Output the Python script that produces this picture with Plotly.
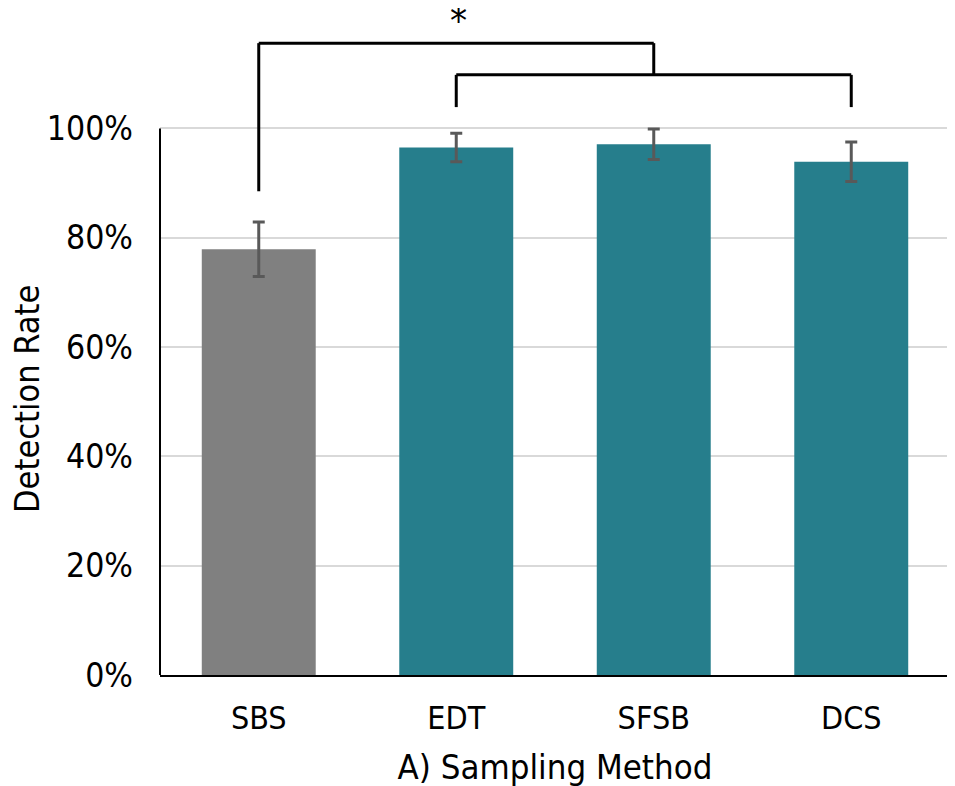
import plotly.graph_objects as go

categories = ["SBS", "EDT", "SFSB", "DCS"]
detection_rate = [0.779, 0.965, 0.971, 0.939]
error = [0.050, 0.026, 0.028, 0.036]
bar_colors = ["#808080", "#267E8C", "#267E8C", "#267E8C"]
y_ticks = [0, 0.2, 0.4, 0.6, 0.8, 1.0]
y_tick_labels = ["0%", "20%", "40%", "60%", "80%", "100%"]

# significance bracket levels (data units)
bracket_outer_y = 1.156
bracket_inner_y = 1.098
bracket_inner_end = 1.039
bracket_sbs_end = 0.885
y_top = 1.2203

FONT = "DejaVu Sans Condensed, DejaVu Sans, sans-serif"

fig = go.Figure()
fig.add_trace(go.Bar(
    x=categories, y=detection_rate,
    marker=dict(color=bar_colors, line=dict(width=0)),
    error_y=dict(type="data", array=error, visible=True,
                 color="#595959", thickness=3, width=6),
))

line = dict(color="black", width=3)
shapes = [
    dict(type="line", xref="paper", yref="y", x0=0, x1=0, y0=0, y1=1.0,
         line=dict(color="black", width=2)),
    dict(type="line", xref="x", yref="y", x0=0, x1=0, y0=bracket_sbs_end, y1=bracket_outer_y, line=line),
    dict(type="line", xref="x", yref="y", x0=0, x1=2, y0=bracket_outer_y, y1=bracket_outer_y, line=line),
    dict(type="line", xref="x", yref="y", x0=2, x1=2, y0=bracket_outer_y, y1=bracket_inner_y, line=line),
    dict(type="line", xref="x", yref="y", x0=1, x1=3, y0=bracket_inner_y, y1=bracket_inner_y, line=line),
    dict(type="line", xref="x", yref="y", x0=1, x1=1, y0=bracket_inner_y, y1=bracket_inner_end, line=line),
    dict(type="line", xref="x", yref="y", x0=3, x1=3, y0=bracket_inner_y, y1=bracket_inner_end, line=line),
]

annotations = [
    dict(x=1, y=y_top, xref="x", yref="y", text="*", showarrow=False,
         yanchor="top", yshift=11, xshift=2,
         font=dict(size=38, color="black")),
    dict(x=-152 / 790, y=0.505, xref="paper", yref="y", text="Detection Rate",
         textangle=-90, showarrow=False, xanchor="left", yanchor="middle",
         xshift=-3,
         font=dict(size=34, color="black")),
]

fig.update_layout(
    width=955, height=786,
    margin=dict(l=152, r=13, t=0, b=119),
    paper_bgcolor="white", plot_bgcolor="white",
    font=dict(family=FONT, size=32, color="black"),
    showlegend=False,
    bargap=0.423,
    shapes=shapes,
    annotations=annotations,
    xaxis=dict(
        automargin=False,
        showline=True, linecolor="black", linewidth=2,
        showgrid=False, ticks="", ticklabelstandoff=14,
        title=dict(text="A) Sampling Method", standoff=18, font=dict(size=34.5)),
        tickfont=dict(size=32),
    ),
    yaxis=dict(
        automargin=False,
        range=[0, y_top],
        tickvals=y_ticks, ticktext=y_tick_labels,
        showgrid=True, gridcolor="#d9d9d9", gridwidth=1.5,
        zeroline=False, showline=False, ticks="",
        ticklabelstandoff=26,
        tickfont=dict(size=33.5),
    ),
)

fig.write_html("out.html")
